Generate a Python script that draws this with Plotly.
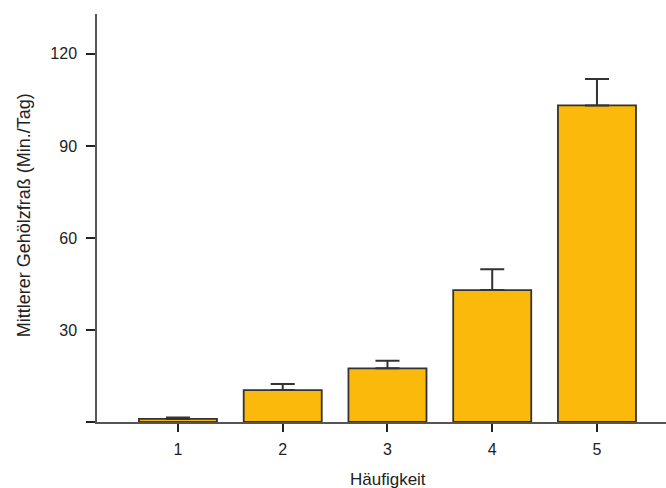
import plotly.graph_objects as go

# Häufigkeitsklassen und mittlerer Gehölzfraß (Min./Tag) mit Standardfehler
haeufigkeit = [1, 2, 3, 4, 5]
tick_labels = ["1", "2", "3", "4", "5"]
mittelwert = [1.0, 10.4, 17.5, 43.0, 103.2]
fehler = [0.5, 2.0, 2.5, 6.8, 8.6]

y_ticks = [0, 30, 60, 90, 120]
y_ticktext = ["", "30", "60", "90", "120"]

FONT = "Liberation Sans, Arial, sans-serif"
TEXT = "#222222"

fig = go.Figure()
fig.add_trace(go.Bar(
    x=haeufigkeit,
    y=mittelwert,
    width=0.745,
    marker=dict(color="#FBBA0B", line=dict(color="#333333", width=1.8)),
    error_y=dict(
        type="data",
        array=fehler,
        arrayminus=[0] * len(fehler),
        symmetric=False,
        color="#333333",
        thickness=2,
        width=12,
    ),
    showlegend=False,
))

fig.update_layout(
    width=666,
    height=488,
    margin=dict(l=97, r=0, t=14, b=66),
    paper_bgcolor="white",
    plot_bgcolor="white",
    font=dict(family=FONT, size=17, color=TEXT),
    xaxis=dict(
        range=[0.227, 5.659],
        tickvals=haeufigkeit,
        ticktext=tick_labels,
        ticks="outside",
        ticklen=8,
        tickwidth=2,
        tickcolor="#222222",
        ticklabelstandoff=4,
        showline=True,
        linecolor="#555555",
        linewidth=1.5,
        showgrid=False,
        zeroline=False,
        tickfont=dict(size=16, color=TEXT),
    ),
    yaxis=dict(
        range=[0, 133],
        tickvals=y_ticks,
        ticktext=y_ticktext,
        ticks="outside",
        ticklen=9,
        tickwidth=2,
        tickcolor="#222222",
        ticklabelstandoff=6,
        showline=True,
        linecolor="#555555",
        linewidth=1.5,
        showgrid=False,
        zeroline=False,
        tickfont=dict(size=16, color=TEXT),
    ),
    annotations=[
        dict(
            text="Häufigkeit",
            xref="paper", yref="paper",
            x=0.512, y=-0.142,
            xanchor="center", yanchor="middle",
            showarrow=False,
            font=dict(size=17, color=TEXT),
        ),
        dict(
            text="Mittlerer Gehölzfraß (Min./Tag)",
            xref="paper", yref="paper",
            x=-0.128, y=0.507,
            xanchor="center", yanchor="middle",
            textangle=-90,
            showarrow=False,
            font=dict(size=18, color=TEXT),
        ),
    ],
)

fig.write_html("out.html")
